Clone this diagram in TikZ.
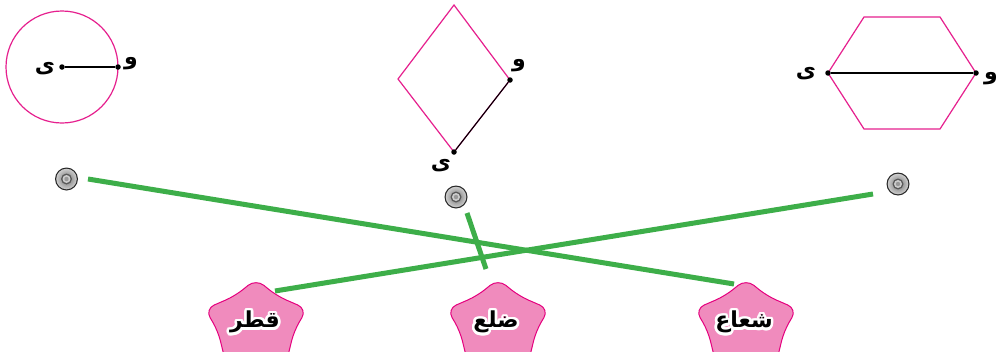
\documentclass[tikz,border=0pt]{standalone}
\usepackage{fontspec}
\TeXXeTstate=1
\newfontfamily\arabicfont[Script=Arabic]{DejaVu Sans}
\definecolor{shapepink}{HTML}{E6208E}
\definecolor{starfill}{HTML}{F08BBD}
\definecolor{starline}{HTML}{E5007E}
\definecolor{linegreen}{HTML}{3DAE49}
\tikzset{
  outline/.style={draw=shapepink, line width=1.2pt},
  seg/.style={draw=black, line width=1.1pt},
  dot/.style={circle, fill=black, inner sep=0pt, minimum size=5.5pt},
  lbl/.style={font=\arabicfont\bfseries\fontsize{22}{22}\selectfont, inner sep=0pt},
  match/.style={draw=linegreen, line width=5pt},
  starpath/.style={fill=starfill, draw=starline, line width=1pt, rounded corners=10pt},
  wordtext/.style={font=\arabicfont\bfseries\fontsize{22}{22}\selectfont, inner sep=0pt},
}
\newcommand\bulletmark[2]{%
  \fill[black!85] (#1) circle (11.5pt);
  \shade[inner color=gray!90!black, outer color=gray!40] (#1) circle (10.3pt);
  \fill[gray!70!black] (#1) circle (5.5pt);
  \fill[gray!40] (#1) circle (4pt);
  \fill[gray!80] (#1) circle (2.2pt);
  \node[circle, inner sep=0pt, minimum size=23pt] (#2) at (#1) {};
}
\newcommand\softstar[2]{%
  \begin{scope}[shift={(#1)}]
  \path[starpath] (10.5,-34.5) -- (21,-26) -- (51,-13) -- (38,9) -- (29,46) -- (0,31)
    -- (-29,46) -- (-38,9) -- (-51,-13) -- (-21,-26) -- (0,-43) -- (10.5,-34.5);
  \coordinate (#2) at (0,0);
  \end{scope}
}
\newcommand\hcopy[3]{\rlap{\hspace*{#1}\raisebox{#2}{\color{white}\beginR #3\endR}}}
\newcommand\haloed[1]{%
  \hcopy{2.6pt}{0pt}{#1}\hcopy{-2.6pt}{0pt}{#1}\hcopy{0pt}{2.6pt}{#1}\hcopy{0pt}{-2.6pt}{#1}%
  \hcopy{1.84pt}{1.84pt}{#1}\hcopy{-1.84pt}{1.84pt}{#1}\hcopy{1.84pt}{-1.84pt}{#1}\hcopy{-1.84pt}{-1.84pt}{#1}%
  \hcopy{2.4pt}{1pt}{#1}\hcopy{-2.4pt}{1pt}{#1}\hcopy{2.4pt}{-1pt}{#1}\hcopy{-2.4pt}{-1pt}{#1}%
  \hcopy{1pt}{2.4pt}{#1}\hcopy{-1pt}{2.4pt}{#1}\hcopy{1pt}{-2.4pt}{#1}\hcopy{-1pt}{-2.4pt}{#1}%
  {\color{black}\beginR #1\endR}}
\begin{document}
\begin{tikzpicture}[x=1pt,y=-1pt]
\useasboundingbox[fill=white] (0,0) rectangle (996,351);
% circle
\coordinate (cc) at (62,67);
\draw[outline] (cc) circle (56pt);
\node[dot] (c1) at (62,67) {};
\node[dot] (c2) at (118,67) {};
\draw[seg] (c1) -- (c2);
\node[lbl] (cl1) at (45,69) {\beginR ی\endR};
\node[lbl] (cl2) at (131,64) {\beginR و\endR};
% rhombus
\coordinate (r1) at (454,5);
\coordinate (r2) at (398,79);
\coordinate (r3) at (454,152);
\coordinate (r4) at (510,80);
\draw[outline] (r1) -- (r2) -- (r3) -- (r4) -- cycle;
\node[dot] (rd1) at (r4) {};
\node[dot] (rd2) at (r3) {};
\draw[seg] (rd1) -- (rd2);
\node[lbl] (rl1) at (519,66) {\beginR و\endR};
\node[lbl] (rl2) at (441,166) {\beginR ی\endR};
% hexagon
\coordinate (h1) at (828,73);
\coordinate (h2) at (864,17);
\coordinate (h3) at (940,17);
\coordinate (h4) at (976,73);
\coordinate (h5) at (940,129);
\coordinate (h6) at (864,129);
\draw[outline] (h1) -- (h2) -- (h3) -- (h4) -- (h5) -- (h6) -- cycle;
\node[dot] (hd1) at (h1) {};
\node[dot] (hd2) at (h4) {};
\draw[seg] (hd1) -- (hd2);
\node[lbl] (hl1) at (806,74) {\beginR ی\endR};
\node[lbl] (hl2) at (991,79) {\beginR و\endR};
% bullets
\bulletmark{66.5,179}{b1}
\bulletmark{456,197}{b2}
\bulletmark{898,184}{b3}
% stars
\softstar{256,322}{s1}
\softstar{498,322}{s2}
\softstar{746,322}{s3}
\node[wordtext] (w1) at (255,322) {\haloed{قطر}};
\node[wordtext] (w2) at (496,322) {\haloed{ضلع}};
\node[wordtext] (w3) at (744,322) {\haloed{شعاع}};
% connectors
\coordinate (e1a) at (88,179);
\coordinate (e1b) at (734,284);
\coordinate (e2a) at (873,194);
\coordinate (e2b) at (275,291);
\coordinate (e3a) at (467,213);
\coordinate (e3b) at (486,269);
\draw[match] (e1a) -- (e1b);
\draw[match] (e2a) -- (e2b);
\draw[match] (e3a) -- (e3b);
\end{tikzpicture}
\end{document}
